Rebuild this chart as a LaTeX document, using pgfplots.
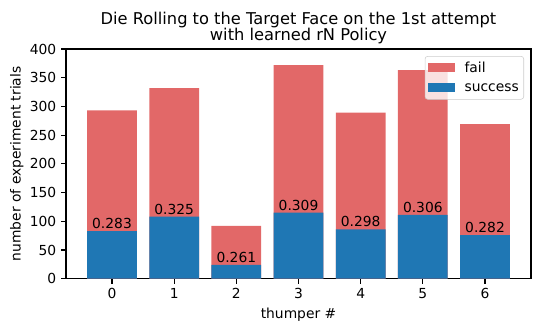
\documentclass[border=0pt]{standalone}
\usepackage{fontspec}
\setmainfont{DejaVu Sans}
\usepackage{pgfplots}
\usepackage{pgfplotstable}
\pgfplotsset{compat=1.18}

\definecolor{succ}{RGB}{31,119,180}
\definecolor{failc}{RGB}{226,104,104}
\definecolor{legframe}{RGB}{204,204,204}

% totals (fail bar is drawn full height, success drawn over it)
\pgfplotstableread{
x total
0 293
1 332
2 92
3 372
4 289
5 363
6 269
}\totaltab

\pgfplotstableread{
x succ lab
0 83 0.283
1 108 0.325
2 24 0.261
3 115 0.309
4 86 0.298
5 111 0.306
6 76 0.282
}\succtab

\newcommand{\legstrut}{\rule[-2.2pt]{0pt}{9.7pt}}

\begin{document}
\fontsize{10}{12}\selectfont
\begin{tikzpicture}
\begin{axis}[
  name=ax,
  scale only axis,
  width=4.65in, height=2.297in,
  xmin=-0.74, xmax=6.74,
  ymin=0, ymax=400,
  xtick={0,1,2,3,4,5,6},
  ytick={0,50,...,400},
  xtick pos=left, ytick pos=left,
  tick align=outside,
  major tick length=3.5pt,
  tick style={line width=0.8pt, black},
  axis line style={line width=0.8pt},
  ticklabel style={font=\fontsize{10}{12}\selectfont},
  /pgf/number format/assume math mode=true,
  title={Die Rolling to the Target Face on the 1st attempt\\[-2.2pt]with learned rN Policy},
  title style={font=\fontsize{11.75}{14}\selectfont, align=center,
    at={(0.5,1)}, anchor=south, inner sep=0pt, yshift=-2.7pt},
  xlabel={thumper \#},
  ylabel={number of experiment trials},
  ylabel shift=-2.2pt,
  label style={font=\fontsize{10}{12}\selectfont},
  ybar, bar width=0.8, bar shift=0pt,
  legend style={at={(1,1)}, anchor=north east, xshift=-0.07in, yshift=-0.07in,
    draw=legframe, fill=white, fill opacity=0.8, draw opacity=1, text opacity=1,
    rounded corners=2pt, font=\fontsize{10}{12}\selectfont,
    inner xsep=2.1pt, inner ysep=2.3pt, row sep=2.4pt, column sep=5.6pt,
    nodes={inner sep=1.5pt}},
  legend cell align=left,
  legend image code/.code={\fill[#1, fill opacity=1, sharp corners]
    (0pt,-3.25pt) rectangle (19.4pt,3.25pt);},
]
\addplot[fill=failc, draw=none] table[x=x, y=total] {\totaltab};
\addlegendentry{\legstrut fail}
\addplot[fill=succ, draw=none,
  point meta=explicit symbolic,
  nodes near coords,
  every node near coord/.append style={anchor=south, inner sep=1.5pt,
    font=\fontsize{10}{12}\selectfont, text=black}]
  table[x=x, y=succ, meta=lab] {\succtab};
\addlegendentry{\legstrut success}
\end{axis}
\pgfresetboundingbox
\path[use as bounding box] ([xshift=-0.66in, yshift=-0.533in]ax.south west)
  rectangle ([xshift=0.09in, yshift=0.49in]ax.north east);
\end{tikzpicture}
\end{document}
